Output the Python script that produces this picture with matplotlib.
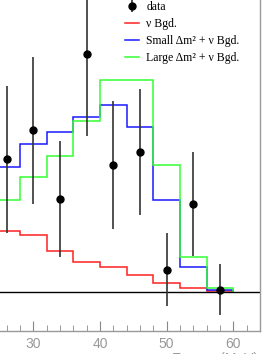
import matplotlib
matplotlib.use("Agg")
import matplotlib.pyplot as plt
import numpy as np

# bin edges (MeV) and histogram contents
edges = [24, 28, 32, 36, 40, 44, 48, 52, 56, 60]
bgd = [6.07, 5.67, 4.10, 2.97, 2.47, 1.67, 0.87, 0.40, 0.07]
small_dm2 = [12.47, 14.80, 16.03, 17.53, 18.67, 16.53, 9.23, 2.50, 0.17]
large_dm2 = [9.20, 11.47, 13.60, 17.13, 21.20, 21.20, 12.73, 3.47, 0.40]

# data points at bin centres
data_x = [26, 30, 34, 38, 42, 46, 50, 54, 58]
data_y = [13.27, 16.20, 9.33, 23.77, 12.67, 14.03, 2.23, 8.77, 0.23]
data_err = [7.35, 7.35, 5.80, 8.20, 6.40, 6.30, 3.67, 5.20, 2.57]

W, H = 266, 354
fig = plt.figure(figsize=(W / 100, H / 100), dpi=100)

# axes extends past the left/top edges of the figure (cropped view)
x_lo, x_hi = 20, 64
y_lo, y_hi = -3.9, 30.0
px_per_x = 6.667
ax_right = 260
ax_bottom = 331
ax_w = (x_hi - x_lo) * px_per_x
ax_h = (y_hi - y_lo) * 10
ax = fig.add_axes([(ax_right - ax_w) / W, (H - ax_bottom) / H, ax_w / W, ax_h / H])

ax.stairs(bgd, edges, color="#ff2020", lw=1.1, label="ν Bgd.")
ax.stairs(small_dm2, edges, color="#1a1aff", lw=1.1,
          label="Small Δm² + ν Bgd.")
ax.stairs(large_dm2, edges, color="#33ff33", lw=1.1,
          label="Large Δm² + ν Bgd.")
ax.axhline(0, color="black", lw=1.0)
eb = ax.errorbar(data_x, data_y, yerr=data_err, fmt="o", color="black",
                 ecolor="#333333", elinewidth=1.2, markersize=5, capsize=0,
                 label="data")

ax.set_xlim(x_lo, x_hi)
ax.set_ylim(y_lo, y_hi)

for side in ["top", "left"]:
    ax.spines[side].set_visible(False)
for side in ["right", "bottom"]:
    ax.spines[side].set_color("#999999")
    ax.spines[side].set_linewidth(1.0)

ax.set_xticks([30, 40, 50, 60])
ax.set_xticks(np.arange(22, 64, 2), minor=True)
ax.tick_params(axis="x", which="both", direction="in", colors="#888888",
               labelsize=10, pad=4)
ax.tick_params(axis="x", which="major", length=7)
ax.tick_params(axis="x", which="minor", length=4)
ax.tick_params(axis="y", left=False, labelleft=False)
for lbl in ax.get_xticklabels():
    lbl.set_family("Liberation Sans")
    lbl.set_color("#999999")

handles, labels = ax.get_legend_handles_labels()
order = [labels.index("data")] + [i for i, l in enumerate(labels) if l != "data"]
leg = ax.legend([handles[i] for i in order], [labels[i] for i in order],
                loc="upper left", bbox_to_anchor=(125 / W, 1 - 1.5 / H),
                bbox_transform=fig.transFigure, frameon=False,
                prop={"family": "Liberation Serif", "size": 8.5},
                handlelength=1.15, handletextpad=0.65, labelspacing=0.42,
                borderpad=0, borderaxespad=0)

fig.text(258 / W, 1.5 / H, "Energy (MeV)", ha="right", va="top",
         color="#999999", fontsize=10, family="Liberation Sans")

fig.savefig("out.png", dpi=100)
